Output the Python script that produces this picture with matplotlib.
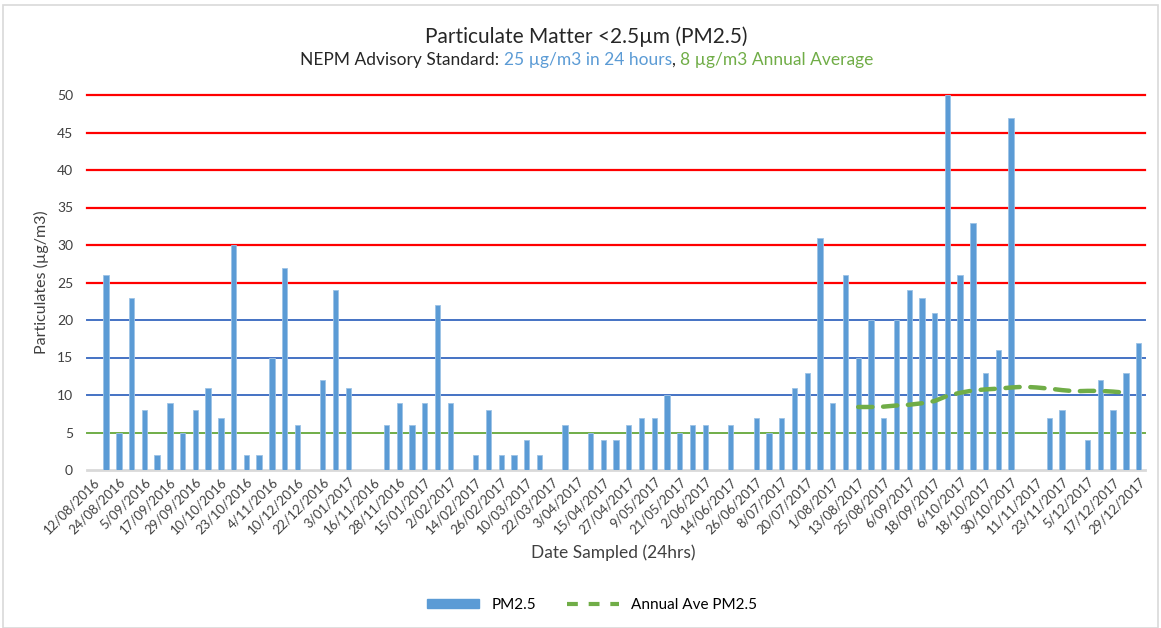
import numpy as np
import matplotlib
matplotlib.use("Agg")
import matplotlib.pyplot as plt
from matplotlib.lines import Line2D
from matplotlib.patches import Patch, Rectangle

plt.rcParams['font.family'] = ['Lato', 'DejaVu Sans']

nan = np.nan

# one value per 6-day sample (83 samples), nan = no sample
pm25 = [nan, 26, 5, 23, 8, 2, 9, 5, 8, 11, 7, 30, 2, 2, 15, 27, 6, nan, 12, 24,
        11, nan, nan, 6, 9, 6, 9, 22, 9, nan, 2, 8, 2, 2, 4, 2, nan, 6, nan, 5,
        4, 4, 6, 7, 7, 10, 5, 6, 6, nan, 6, nan, 7, 5, 7, 11, 13, 31, 9, 26,
        15, 20, 7, 20, 24, 23, 21, 50, 26, 33, 13, 16, 47, nan, nan, 7, 8, nan, 4, 12,
        8, 13, 17]

annual_ave = [nan] * 60 + [8.4, 8.4, 8.45, 8.6, 8.7, 8.9, 9.2, 9.9, 10.3, 10.6,
                           10.75, 10.85, 11.0, 11.1, 11.0, 10.85, 10.65, 10.5, 10.55, 10.55,
                           10.45, 10.3, nan]

# labels shown on every second category
date_labels = ['12/08/2016', '24/08/2016', '5/09/2016', '17/09/2016', '29/09/2016',
               '10/10/2016', '23/10/2016', '4/11/2016', '10/12/2016', '22/12/2016',
               '3/01/2017', '16/11/2016', '28/11/2016', '15/01/2017', '2/02/2017',
               '14/02/2017', '26/02/2017', '10/03/2017', '22/03/2017', '3/04/2017',
               '15/04/2017', '27/04/2017', '9/05/2017', '21/05/2017', '2/06/2017',
               '14/06/2017', '26/06/2017', '8/07/2017', '20/07/2017', '1/08/2017',
               '13/08/2017', '25/08/2017', '6/09/2017', '18/09/2017', '6/10/2017',
               '18/10/2017', '30/10/2017', '11/11/2017', '23/11/2017', '5/12/2017',
               '17/12/2017', '29/12/2017']

standard_levels = [5, 10, 15, 20, 25, 30, 35, 40, 45, 50]

bar_blue = '#5B9BD5'
ave_green = '#70AD47'
text_grey = '#404040'


def level_colour(v):
    if v <= 5:
        return '#70AD47'
    if v <= 20:
        return '#4472C4'
    return '#FF0000'


fig = plt.figure(figsize=(11.61, 6.28), dpi=100)
ax = fig.add_axes([87 / 1161, 1 - 470 / 628, (1145 - 87) / 1161, 375 / 628])

x = np.arange(len(pm25))
for lv in standard_levels:
    ax.axhline(lv, color=level_colour(lv), lw=1.6 if lv > 20 else 1.4, zorder=1, clip_on=False)
ax.axhline(0, color='#D9D9D9', lw=2, zorder=1, clip_on=False)

ax.bar(x, pm25, width=0.42, color=bar_blue, edgecolor='#9DC3E6', linewidth=0.6, zorder=2)
ax.plot(x, annual_ave, color=ave_green, lw=3.2, dashes=(3.2, 2.4),
        dash_capstyle='round', zorder=3)

ax.set_xlim(-0.5, len(pm25) - 0.5)
ax.set_ylim(0, 50)
ax.set_yticks(range(0, 51, 5))
ax.tick_params(axis='y', length=0, labelsize=10, colors=text_grey, pad=10)
ax.set_xticks(x[::2])
ax.set_xticklabels(date_labels, rotation=45, ha='right', rotation_mode='anchor',
                   fontsize=9.5, color=text_grey)
ax.tick_params(axis='x', length=0, pad=4)
for s in ax.spines.values():
    s.set_visible(False)

ax.set_ylabel('Particulates (µg/m3)', fontsize=11.5, color=text_grey, labelpad=6)
fig.text(613 / 1161, 1 - 553 / 628, 'Date Sampled (24hrs)', fontsize=12.5,
         color=text_grey, ha='center', va='center')

fig.text(586 / 1161, 1 - 37 / 628, 'Particulate Matter <2.5µm (PM2.5)', fontsize=15,
         color='#262626', ha='center', va='center')

# subtitle in three colours
parts = [('NEPM Advisory Standard: ', '#262626'), ('25 µg/m3 in 24 hours', bar_blue),
         (', ', '#262626'), ('8 µg/m3 Annual Average', ave_green)]
sub_size = 12.5
renderer = fig.canvas.get_renderer()
widths = []
for s, c in parts:
    t = fig.text(0, 0, s, fontsize=sub_size)
    widths.append(t.get_window_extent(renderer).width)
    t.remove()
xpos = 587 - sum(widths) / 2
for (s, c), w in zip(parts, widths):
    fig.text(xpos / 1161, 1 - 60 / 628, s, fontsize=sub_size, color=c, ha='left', va='center')
    xpos += w

handles = [Patch(color=bar_blue, label='PM2.5'),
           Line2D([0], [0], color=ave_green, lw=3, dashes=(2.6, 2.6), label='Annual Ave PM2.5')]
fig.legend(handles=handles, loc='center', bbox_to_anchor=(592 / 1161, 1 - 605 / 628),
           ncol=2, frameon=False, fontsize=11, handlelength=3.4, columnspacing=2.0,
           handleheight=0.5, handletextpad=0.8)

fig.add_artist(Rectangle((3 / 1161, 0), 1155 / 1161, 1 - 5 / 628, transform=fig.transFigure,
                         fill=False, edgecolor='#D9D9D9', lw=1.2))

fig.savefig('out.png', dpi=100)
